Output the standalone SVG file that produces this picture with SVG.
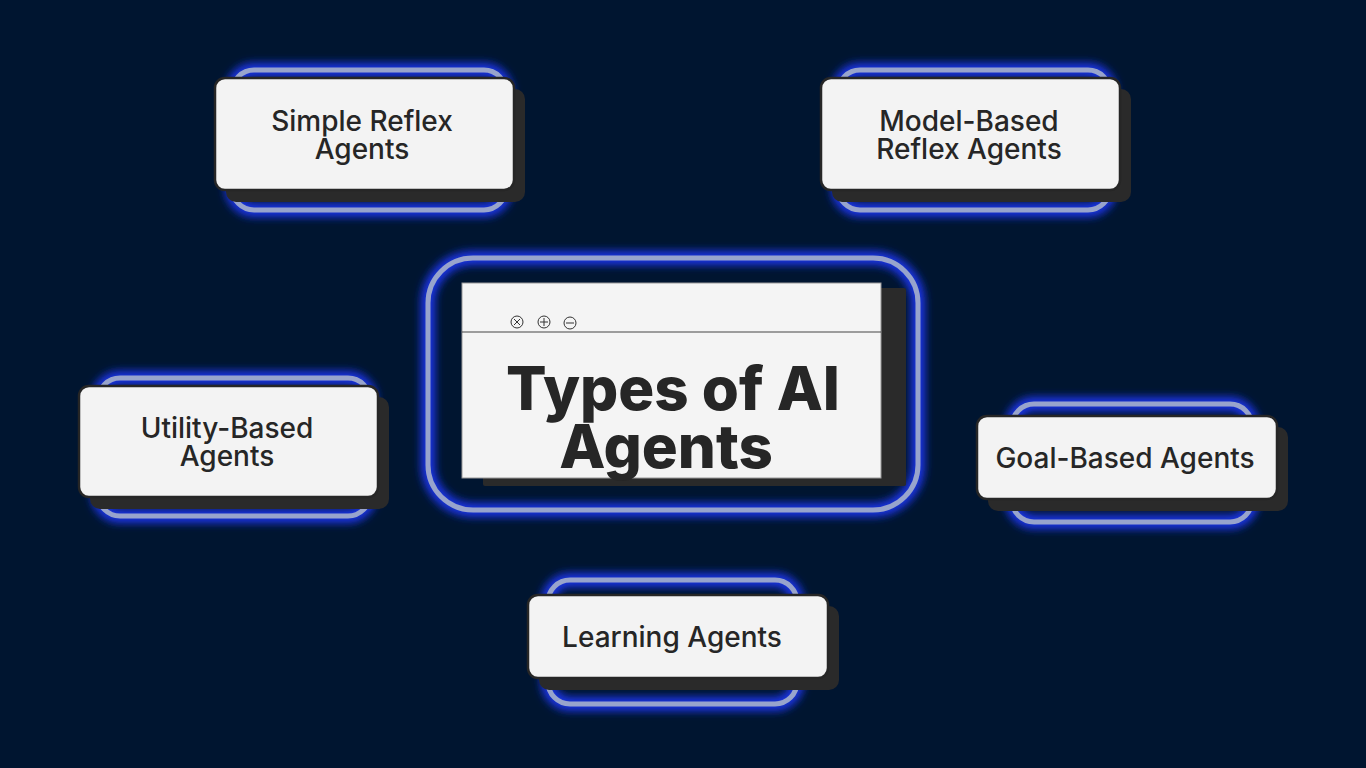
<svg xmlns="http://www.w3.org/2000/svg" width="1366" height="768" viewBox="0 0 1366 768">
<defs>
<filter id="glow" x="-20%" y="-30%" width="140%" height="160%"><feGaussianBlur stdDeviation="4"/></filter>
<style>
.g{fill:none;stroke:#1a35e8;stroke-width:14;filter:url(#glow)}
.r{fill:none;stroke:#98a4cc;stroke-width:5}
.sh{fill:#2a2a2a}
.c{fill:#f3f3f3;stroke:#262626;stroke-width:2.5}
.t{font-family:Inter,"Liberation Sans",sans-serif;font-size:28px;font-weight:500;fill:#262626;text-anchor:middle}
.ic{fill:none;stroke:#333;stroke-width:1}
</style>
</defs>
<rect width="1366" height="768" fill="#001530"/>
<g id="center">
<rect class="g" x="428" y="258" width="490" height="252" rx="45" stroke-width="18"/>
<rect class="r" x="428" y="258" width="490" height="252" rx="45" stroke-width="10"/>
<rect class="sh" x="483" y="288" width="423" height="198" rx="2"/>
<rect x="462" y="283" width="419" height="195" fill="#f4f4f4" stroke="#999" stroke-width="1"/>
<line x1="462" y1="332" x2="881" y2="332" stroke="#444" stroke-width="1.2"/>
<circle class="ic" cx="517" cy="322" r="6"/><path class="ic" d="M514 319l6 6M520 319l-6 6"/>
<circle class="ic" cx="544" cy="322" r="6"/><path class="ic" d="M540 322h8M544 318v8"/>
<circle class="ic" cx="570" cy="323" r="6"/><path class="ic" d="M566 323h8"/>
<text x="673" y="410" font-family="Inter,'Liberation Sans',sans-serif" font-weight="800" font-size="60" fill="#262626" text-anchor="middle">Types of AI</text>
<text x="666" y="468" font-family="Inter,'Liberation Sans',sans-serif" font-weight="800" font-size="60" fill="#262626" text-anchor="middle">Agents</text>
</g>
<g id="simple">
<rect class="g" x="232" y="70" width="274" height="140" rx="22"/><rect class="r" x="232" y="70" width="274" height="140" rx="22"/>
<rect class="sh" x="226" y="89" width="299" height="113" rx="10"/>
<rect class="c" x="215" y="78" width="299" height="112" rx="10"/>
<text class="t" x="362" y="131">Simple Reflex</text><text class="t" x="362" y="159">Agents</text>
</g>
<g id="model">
<rect class="g" x="838" y="70" width="272" height="140" rx="22"/><rect class="r" x="838" y="70" width="272" height="140" rx="22"/>
<rect class="sh" x="832" y="89" width="299" height="113" rx="10"/>
<rect class="c" x="821" y="78" width="299" height="112" rx="10"/>
<text class="t" x="969" y="131">Model-Based</text><text class="t" x="969" y="159">Reflex Agents</text>
</g>
<g id="utility">
<rect class="g" x="98" y="378" width="272" height="138" rx="22"/><rect class="r" x="98" y="378" width="272" height="138" rx="22"/>
<rect class="sh" x="90" y="397" width="299" height="112" rx="10"/>
<rect class="c" x="79" y="386" width="299" height="111" rx="10"/>
<text class="t" x="227" y="438">Utility-Based</text><text class="t" x="227" y="466">Agents</text>
</g>
<g id="goal">
<rect class="g" x="1012" y="404" width="240" height="118" rx="22"/><rect class="r" x="1012" y="404" width="240" height="118" rx="22"/>
<rect class="sh" x="988" y="427" width="300" height="84" rx="10"/>
<rect class="c" x="977" y="416" width="300" height="83" rx="10"/>
<text class="t" x="1125" y="468">Goal-Based Agents</text>
</g>
<g id="learning">
<rect class="g" x="548" y="580" width="249" height="124" rx="22"/><rect class="r" x="548" y="580" width="249" height="124" rx="22"/>
<rect class="sh" x="539" y="606" width="300" height="84" rx="10"/>
<rect class="c" x="528" y="595" width="300" height="83" rx="10"/>
<text class="t" x="672" y="647">Learning Agents</text>
</g>
<g id="connectors"/>
</svg>
